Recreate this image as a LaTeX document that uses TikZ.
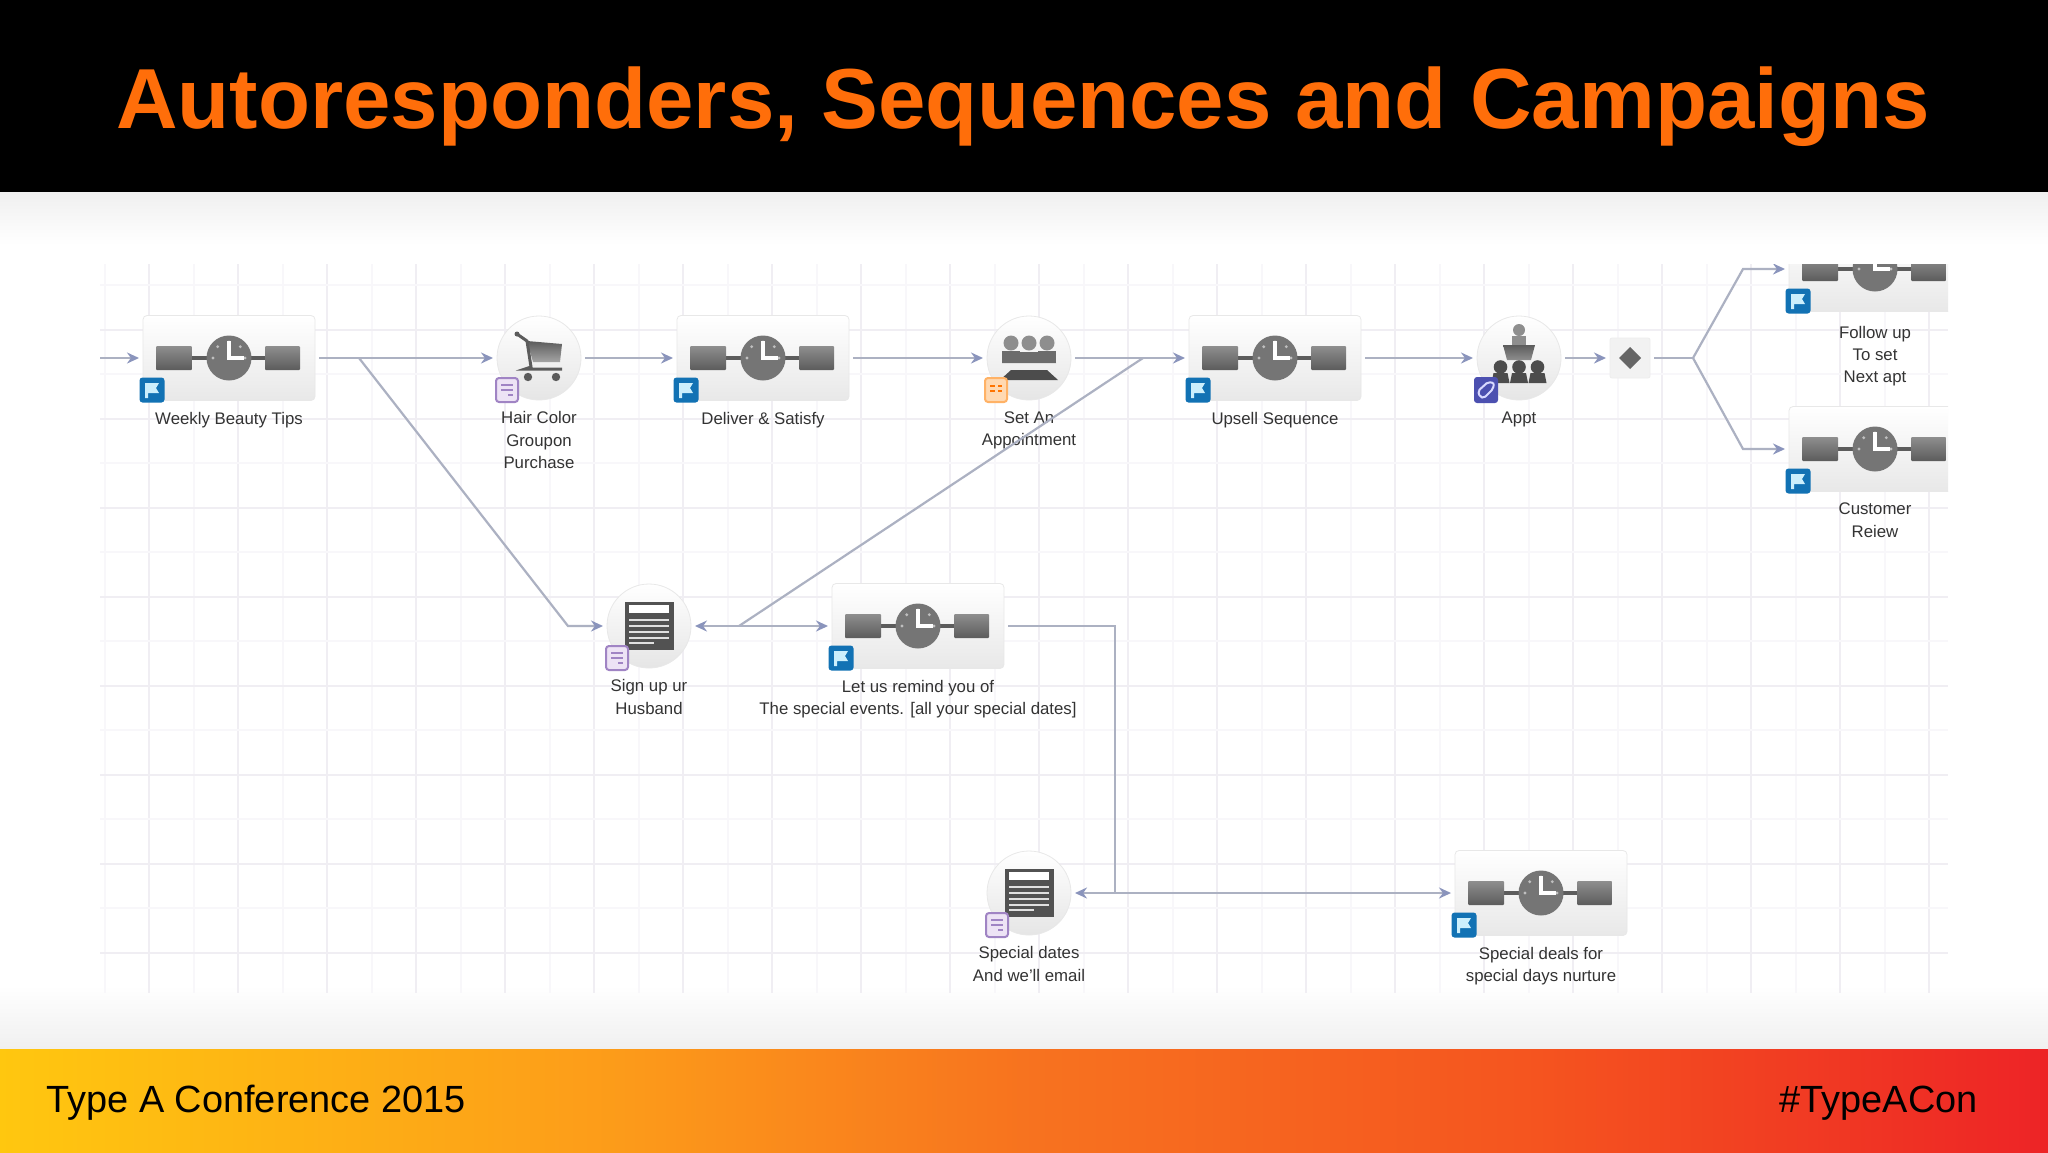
\documentclass[tikz,border=0pt]{standalone}
\usepackage{fontspec}
\setmainfont{Liberation Sans}
\usetikzlibrary{positioning, arrows.meta}
\definecolor{titleorange}{HTML}{FF6E0A}
\definecolor{flowline}{HTML}{ACB1C2}
\definecolor{flowtip}{HTML}{8A94BC}
\definecolor{gridmajor}{HTML}{F0EEF3}
\definecolor{gridminor}{HTML}{F8F7FA}
\definecolor{icondark}{HTML}{5C5C5C}
\definecolor{iconlight}{HTML}{8E8E8E}
\definecolor{labeltext}{HTML}{333333}
\definecolor{flagblue}{HTML}{1272B4}
\definecolor{noteedge}{HTML}{A084C4}
\definecolor{notefill}{HTML}{EDE3F5}
\definecolor{tagblue}{HTML}{4C50B0}
\pgfdeclarehorizontalshading{footerband}{100bp}{
    rgb(0bp)=(1,0.78,0.06);
    rgb(25bp)=(1,0.78,0.06);
    rgb(40bp)=(0.99,0.61,0.10);
    rgb(50bp)=(0.97,0.45,0.12);
    rgb(62.5bp)=(0.96,0.33,0.12);
    rgb(75bp)=(0.93,0.14,0.15);
    rgb(100bp)=(0.93,0.14,0.15)
}
\tikzset{
    boxnode/.style={
        rectangle,
        rounded corners=2pt,
        draw=black!9,
        top color=white,
        bottom color=black!9,
        minimum width=86pt,
        minimum height=42.5pt,
        inner sep=0,
        outer sep=2pt
    },
    roundnode/.style={
        circle,
        draw=black!9,
        top color=white,
        bottom color=black!10,
        minimum size=42pt,
        inner sep=0,
        outer sep=2pt
    },
    gatenode/.style={
        rectangle,
        rounded corners=1pt,
        draw=black!7,
        fill=black!5,
        minimum size=20pt,
        inner sep=0,
        outer sep=2pt
    },
    labelnode/.style={
        align=center,
        inner sep=0,
        text=labeltext,
        font=\fontsize{8.4}{11.2}\selectfont
    },
    flow/.style={
        draw=flowline,
        line width=1.1pt
    },
    tip/.style={
        -{Stealth[length=6pt,width=5.5pt,color=flowtip]}
    },
    twotip/.style={
        {Stealth[length=6pt,width=5.5pt,color=flowtip]}-{Stealth[length=6pt,width=5.5pt,color=flowtip]}
    },
    timer/.pic={
        \draw[icondark, line width=2pt] (-40,0) -- (40,0);
        \shade[top color=iconlight, bottom color=icondark, rounded corners=.5pt] (-73,-12) rectangle (-37,12);
        \shade[top color=iconlight, bottom color=icondark, rounded corners=.5pt] (36,-12) rectangle (71,12);
        \fill[icondark!85] (0,0) circle (22.5);
        \foreach \a in {-45,-90,-135,180,0} {
            \fill[black!25] (\a:16) circle (1.6);
        }
        \draw[white, line width=2pt] (0,-17) -- (0,0) -- (15,0);
    },
    cart/.pic={
        \shade[top color=icondark, bottom color=iconlight!80] (-12,-17) -- (23,-14) -- (21,4) -- (-6,4) -- cycle;
        \draw[icondark, line width=1.5pt] (-22,-24) -- (-12,-17) -- (-8,9) -- (-14,11) -- (23,11);
        \fill[icondark] (-22,-24) circle (2.5);
        \fill[icondark] (-11,19) circle (4.2);
        \fill[icondark] (17,19) circle (4.2);
    },
    meeting/.pic={
        \foreach \x in {-18,0,18} {
            \fill[iconlight] (\x,-15) circle (7.5);
        }
        \foreach \x in {-18,18} {
            \fill[icondark!90] (\x-9,4) -- (\x-9,-7) -- (\x+9,-7) -- (\x+9,4) -- cycle;
        }
        \fill[icondark!90] (-27,5) -- (-25,-2) -- (-8,-6) -- (8,-6) -- (25,-2) -- (27,5) -- cycle;
        \fill[black!70] (-18,12) -- (18,12) -- (29,22) -- (-29,22) -- cycle;
    },
    podium/.pic={
        \fill[iconlight] (0,-28) circle (6);
        \fill[iconlight] (-7,-13) rectangle (7,-22);
        \shade[top color=icondark, bottom color=iconlight] (-16,-13) -- (16,-13) -- (12,2) -- (-12,2) -- cycle;
        \foreach \x in {-18.5,0,18.5} {
            \fill[black!70] (\x,9) circle (6.8);
            \fill[black!70] (\x-9,25) -- (\x-7,15) -- (\x+7,15) -- (\x+9,25) -- cycle;
        }
    },
    formicon/.pic={
        \fill[black!68] (-24.5,-24) rectangle (24.5,24);
        \fill[white] (-20,-21) rectangle (20,-13);
        \foreach \y in {-6,0,6,12} {
            \draw[black!12, line width=1pt] (-20,\y) -- (20,\y);
        }
        \draw[black!12, line width=1pt] (-20,17) -- (5,17);
    },
    flagbadge/.pic={
        \fill[flagblue, rounded corners=1.5pt] (-12.5,-12.5) rectangle (12.5,12.5);
        \fill[white!80!cyan] (-7,-7) -- (7,-7) -- (4,-2) -- (7,3) -- (-4,3) -- (-4,8) -- (-7,8) -- cycle;
    },
    notebadge/.pic={
        \draw[noteedge, fill=notefill, line width=1pt, rounded corners=1.5pt] (-11,-12) rectangle (11,12);
        \draw[noteedge, line width=1pt] (-6,-5) -- (6,-5) (-6,0) -- (6,0) (1,5) -- (6,5);
    },
    cardbadge/.pic={
        \draw[orange!60, fill=orange!30, line width=1pt, rounded corners=1.5pt] (-11,-12) rectangle (11,12);
        \draw[orange!90!red, line width=1pt] (-6,-4) -- (-1,-4) (2,-4) -- (6,-4) (-6,1) -- (-1,1) (2,1) -- (6,1);
    },
    tagbadge/.pic={
        \fill[tagblue, rounded corners=1.5pt] (-12,-13) rectangle (12,13);
        \draw[white!85!blue, line width=1pt, rounded corners=1pt] (-6,7) -- (-8,1) -- (2,-8) -- (8,-7) -- (7,-1) -- (-2,8) -- cycle;
    }
}

\begin{document}
\begin{tikzpicture}[x=0.5pt, y=-0.5pt]
    \useasboundingbox (0,0) rectangle (2048,1152);
    % slide background
    \fill[white] (0,0) rectangle (2048,1152);
    \shade[top color=black!6, bottom color=white] (0,192) rectangle (2048,245);
    \shade[top color=white, bottom color=black!6] (0,985) rectangle (2048,1049);
    \fill[black] (0,0) rectangle (2048,192);
    \shade[shading=footerband] (0,1049) rectangle (2048,1152);
    \node[anchor=base west, inner sep=0, text=titleorange, font=\fontsize{42.6}{50}\selectfont\bfseries] (title) at (116,128) {Autoresponders, Sequences and Campaigns};
    \node[anchor=base west, inner sep=0, font=\fontsize{18.95}{22}\selectfont] (conference) at (46,1112) {Type A Conference 2015};
    \node[anchor=base east, inner sep=0, font=\fontsize{18.95}{22}\selectfont] (hashtag) at (1978,1112) {\#TypeACon};
    \begin{scope}
        \clip (100,264) rectangle (1948,993);
        % grid
        \foreach \x in {104.5,193.5,...,1948} {
            \draw[gridminor, line width=1pt] (\x,264) -- (\x,993);
        }
        \foreach \x in {149,238,...,1948} {
            \draw[gridmajor, line width=1.2pt] (\x,264) -- (\x,993);
        }
        \foreach \y in {285,374,...,993} {
            \draw[gridminor, line width=1pt] (100,\y) -- (1948,\y);
        }
        \foreach \y in {330,419,...,993} {
            \draw[gridmajor, line width=1.2pt] (100,\y) -- (1948,\y);
        }
        % top row
        \node[boxnode] (weekly) at (229,358) {};
        \node[roundnode] (hair) at (539,358) {};
        \node[boxnode] (deliver) at (763,358) {};
        \node[roundnode] (appointment) at (1029,358) {};
        \node[boxnode] (upsell) at (1275,358) {};
        \node[roundnode] (appt) at (1519,358) {};
        \node[gatenode] (gate) at (1630,358) {};
        \node[boxnode] (followup) at (1875,269) {};
        \node[boxnode] (customer) at (1875,449) {};
        % middle and bottom row
        \node[roundnode] (husband) at (649,626) {};
        \node[boxnode] (remind) at (918,626) {};
        \node[roundnode] (dates) at (1029,893) {};
        \node[boxnode] (deals) at (1541,893) {};
        % icons
        \foreach \n in {weekly,deliver,upsell,followup,customer,remind,deals} {
            \pic at (\n.center) {timer};
            \pic at ([shift={(-77,32)}]\n.center) {flagbadge};
        }
        \pic at (hair.center) {cart};
        \pic at ([shift={(-32,32)}]hair.center) {notebadge};
        \pic at (appointment.center) {meeting};
        \pic at ([shift={(-33,32)}]appointment.center) {cardbadge};
        \pic at (appt.center) {podium};
        \pic at ([shift={(-33,32)}]appt.center) {tagbadge};
        \pic at (husband.center) {formicon};
        \pic at ([shift={(-32,32)}]husband.center) {notebadge};
        \pic at (dates.center) {formicon};
        \pic at ([shift={(-32,32)}]dates.center) {notebadge};
        \fill[black!60] (1630,347) -- (1641,358) -- (1630,369) -- (1619,358) -- cycle;
        % labels
        \node[labelnode, below=3.6pt of weekly] (weeklytext) {Weekly Beauty Tips};
        \node[labelnode, below=3.6pt of hair] (hairtext) {Hair Color\\Groupon\\Purchase};
        \node[labelnode, below=3.6pt of deliver] (delivertext) {Deliver \& Satisfy};
        \node[labelnode, below=3.6pt of appointment] (appointmenttext) {Set An\\Appointment};
        \node[labelnode, below=3.6pt of upsell] (upselltext) {Upsell Sequence};
        \node[labelnode, below=3.6pt of appt] (appttext) {Appt};
        \node[labelnode, below=5pt of followup] (followuptext) {Follow up\\To set\\Next apt};
        \node[labelnode, below=3.6pt of customer] (customertext) {Customer\\Reiew};
        \node[labelnode, below=3.6pt of husband] (husbandtext) {Sign up ur\\Husband};
        \node[labelnode, below=3.6pt of remind] (remindtext) {Let us remind you of\\The special events. [all your special dates]};
        \node[labelnode, below=3.6pt of dates] (datestext) {Special dates\\And we'll email};
        \node[labelnode, below=3.6pt of deals] (dealstext) {Special deals for\\special days nurture};
        % bends and junctions
        \coordinate (start) at (100,358);
        \coordinate (forkleft) at (359,358);
        \coordinate (elbow) at (568,626);
        \coordinate (forkright) at (1143,358);
        \coordinate (joint) at (739,626);
        \coordinate (drop) at (1115,893);
        \coordinate (split) at (1693,358);
        \coordinate (upbend) at (1743,269);
        \coordinate (downbend) at (1743,449);
        % connectors
        \draw[flow, tip] (start) -- (weekly.west);
        \draw[flow, tip] (weekly.east) -- (hair.west);
        \draw[flow, tip] (hair.east) -- (deliver.west);
        \draw[flow, tip] (deliver.east) -- (appointment.west);
        \draw[flow, tip] (appointment.east) -- (upsell.west);
        \draw[flow, tip] (upsell.east) -- (appt.west);
        \draw[flow, tip] (appt.east) -- (gate.west);
        \draw[flow] (gate.east) -- (split);
        \draw[flow, tip] (split) -- (upbend) -- (followup.west);
        \draw[flow, tip] (split) -- (downbend) -- (customer.west);
        \draw[flow, tip] (forkleft) -- (elbow) -- (husband.west);
        \draw[flow, twotip] (husband.east) -- (remind.west);
        \draw[flow] (forkright) -- (joint);
        \draw[flow] (remind.east) -| (drop);
        \draw[flow, twotip] (dates.east) -- (deals.west);
    \end{scope}
\end{tikzpicture}
\end{document}
